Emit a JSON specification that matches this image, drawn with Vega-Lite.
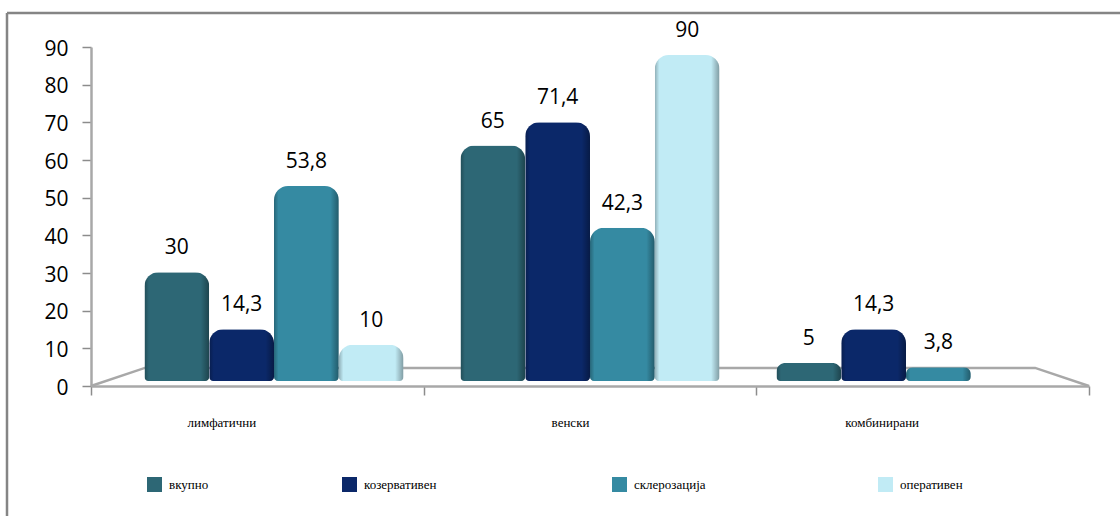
{
  "$schema": "https://vega.github.io/schema/vega-lite/v6.json",
  "width": 1113,
  "height": 503,
  "autosize": {"type": "none"},
  "padding": {"left": 7, "top": 13, "right": 0, "bottom": 0},
  "background": "white",
  "view": {"stroke": null},
  "config": {"axis": {"grid": false, "title": null}},
  "datasets": {
    "bars": [
      {"group": "лимфатични", "series": "вкупно", "value": 30, "label": "30"},
      {"group": "лимфатични", "series": "козервативен", "value": 14.3, "label": "14,3"},
      {"group": "лимфатични", "series": "склерозација", "value": 53.8, "label": "53,8"},
      {"group": "лимфатични", "series": "оперативен", "value": 10, "label": "10"},
      {"group": "венски", "series": "вкупно", "value": 65, "label": "65"},
      {"group": "венски", "series": "козервативен", "value": 71.4, "label": "71,4"},
      {"group": "венски", "series": "склерозација", "value": 42.3, "label": "42,3"},
      {"group": "венски", "series": "оперативен", "value": 90, "label": "90"},
      {"group": "комбинирани", "series": "вкупно", "value": 5, "label": "5"},
      {"group": "комбинирани", "series": "козервативен", "value": 14.3, "label": "14,3"},
      {"group": "комбинирани", "series": "склерозација", "value": 3.8, "label": "3,8"}
    ],
    "floor": [
      {"along": 0, "height": 0},
      {"along": 0.054, "height": 4.8},
      {"along": 0.946, "height": 4.8},
      {"along": 1, "height": 0}
    ],
    "groups": [
      {"group": "лимфатични"},
      {"group": "венски"},
      {"group": "комбинирани"}
    ]
  },
  "resolve": {
    "scale": {"x": "independent", "y": "independent"},
    "axis": {"x": "independent", "y": "independent"}
  },
  "layer": [
    {
      "description": "outer frame, top edge",
      "data": {"values": [{"edge": 1}]},
      "mark": {"type": "rule", "color": "#858585", "strokeWidth": 2.5},
      "encoding": {
        "y": {"field": "edge", "type": "quantitative", "axis": null, "scale": {"domain": [0, 1], "range": [503, 0]}}
      }
    },
    {
      "description": "outer frame, left edge",
      "data": {"values": [{"edge": 0}]},
      "mark": {"type": "rule", "color": "#858585", "strokeWidth": 2.5},
      "encoding": {
        "x": {"field": "edge", "type": "quantitative", "axis": null, "scale": {"domain": [0, 1], "range": [0, 1113]}}
      }
    },
    {
      "description": "floor of the chart, with the value axis",
      "data": {"name": "floor"},
      "mark": {"type": "line", "color": "#a8a8a8", "strokeWidth": 2.5, "interpolate": "linear"},
      "encoding": {
        "x": {"field": "along", "type": "quantitative", "axis": null, "scale": {"domain": [0, 1], "range": [84, 1082]}},
        "y": {
          "field": "height",
          "type": "quantitative",
          "scale": {"domain": [0, 90], "range": [373, 34], "nice": false},
          "axis": {
            "values": [0, 10, 20, 30, 40, 50, 60, 70, 80, 90],
            "offset": -84,
            "tickSize": 9,
            "tickColor": "#8c8c8c",
            "tickWidth": 1.5,
            "domainColor": "#a8a8a8",
            "domainWidth": 2.5,
            "labelFont": "Open Sans",
            "labelFontSize": 21,
            "labelColor": "#000000",
            "labelPadding": 14,
            "labelOffset": 2
          }
        }
      }
    },
    {
      "description": "category axis with ticks between the groups",
      "data": {"name": "groups"},
      "mark": {"type": "tick", "opacity": 0},
      "encoding": {
        "x": {
          "field": "group",
          "type": "nominal",
          "sort": null,
          "scale": {"domain": ["лимфатични", "венски", "комбинирани"], "range": [84, 1082], "paddingInner": 0, "paddingOuter": 0},
          "axis": {
            "orient": "bottom",
            "offset": -130,
            "tickBand": "extent",
            "tickSize": 9,
            "tickColor": "#8c8c8c",
            "tickWidth": 1.5,
            "domainColor": "#a8a8a8",
            "domainWidth": 2.5,
            "labelAngle": 0,
            "labelFont": "Liberation Serif",
            "labelFontSize": 13,
            "labelColor": "#000000",
            "labelPadding": 21,
            "labelOffset": {
              "condition": [
                {"test": "datum.value === 'лимфатични'", "value": -36},
                {"test": "datum.value === 'венски'", "value": -20}
              ],
              "value": -41
            }
          }
        }
      }
    },
    {
      "description": "bars",
      "data": {"name": "bars"},
      "mark": {
        "type": "bar",
        "cornerRadiusTopLeft": 14,
        "cornerRadiusTopRight": 14,
        "cornerRadiusBottomLeft": 4,
        "cornerRadiusBottomRight": 4
      },
      "encoding": {
        "x": {
          "field": "group",
          "type": "nominal",
          "sort": null,
          "axis": null,
          "scale": {"domain": ["лимфатични", "венски", "комбинирани"], "range": [109, 1057], "paddingInner": 0.18, "paddingOuter": 0.09}
        },
        "xOffset": {"field": "series", "type": "nominal", "sort": null, "scale": {"domain": ["вкупно", "козервативен", "склерозација", "оперативен"]}},
        "y": {"field": "value", "type": "quantitative", "axis": null, "scale": {"domain": [0, 90], "range": [368, 42], "nice": false}},
        "fill": {
          "field": "series",
          "type": "nominal",
          "sort": null,
          "scale": {
            "domain": ["вкупно", "козервативен", "склерозација", "оперативен"],
            "range": ["#2d6775", "#0b2869", "#358aa2", "#c1ebf5"]
          },
          "legend": {
            "orient": "none",
            "legendX": 140,
            "legendY": 464,
            "direction": "horizontal",
            "columns": 4,
            "columnPadding": 0,
            "title": null,
            "symbolType": "square",
            "symbolSize": 225,
            "symbolStrokeWidth": 0,
            "labelFont": "Liberation Serif",
            "labelFontSize": 13,
            "labelColor": "#000000",
            "labelLimit": 500,
            "labelOffset": 7,
            "labelExpr": "datum.label === 'вкупно' ? pad(datum.label, 47, '\u00a0') + '\u200b' : datum.label === 'козервативен' ? pad(datum.label, 66, '\u00a0') + '\u200b' : datum.label === 'склерозација' ? pad(datum.label, 65, '\u00a0') + '\u200b' : datum.label"
          }
        }
      }
    },
    {
      "description": "side shading over the bars",
      "data": {"name": "bars"},
      "mark": {
        "type": "bar",
        "cornerRadiusTopLeft": 14,
        "cornerRadiusTopRight": 14,
        "cornerRadiusBottomLeft": 4,
        "cornerRadiusBottomRight": 4,
        "fill": {
          "gradient": "linear", "x1": 0, "y1": 0, "x2": 1, "y2": 0,
          "stops": [
            {"offset": 0, "color": "rgba(0,0,0,0.26)"},
            {"offset": 0.07, "color": "rgba(0,0,0,0)"},
            {"offset": 0.87, "color": "rgba(0,0,0,0)"},
            {"offset": 1, "color": "rgba(0,0,0,0.34)"}
          ]
        }
      },
      "encoding": {
        "x": {
          "field": "group",
          "type": "nominal",
          "sort": null,
          "axis": null,
          "scale": {"domain": ["лимфатични", "венски", "комбинирани"], "range": [109, 1057], "paddingInner": 0.18, "paddingOuter": 0.09}
        },
        "xOffset": {"field": "series", "type": "nominal", "sort": null, "scale": {"domain": ["вкупно", "козервативен", "склерозација", "оперативен"]}},
        "y": {"field": "value", "type": "quantitative", "axis": null, "scale": {"domain": [0, 90], "range": [368, 42], "nice": false}}
      }
    },
    {
      "description": "value labels above the bars",
      "data": {"name": "bars"},
      "mark": {"type": "text", "font": "Open Sans", "fontSize": 21, "color": "#000000", "baseline": "middle", "dy": -24},
      "encoding": {
        "x": {
          "field": "group",
          "type": "nominal",
          "sort": null,
          "axis": null,
          "scale": {"domain": ["лимфатични", "венски", "комбинирани"], "range": [109, 1057], "paddingInner": 0.18, "paddingOuter": 0.09}
        },
        "xOffset": {"field": "series", "type": "nominal", "sort": null, "scale": {"domain": ["вкупно", "козервативен", "склерозација", "оперативен"]}},
        "y": {"field": "value", "type": "quantitative", "axis": null, "scale": {"domain": [0, 90], "range": [368, 42], "nice": false}},
        "text": {"field": "label", "type": "nominal"}
      }
    }
  ]
}
